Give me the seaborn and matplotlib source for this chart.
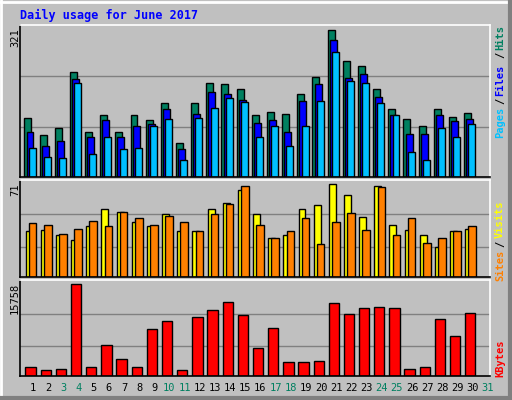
import numpy as np
import pandas as pd
import matplotlib
matplotlib.use("Agg")
import matplotlib.pyplot as plt
import seaborn as sns

days = list(range(1, 31))
hits = [129, 92, 107, 229, 97, 134, 99, 134, 125, 162, 73, 160, 205, 203, 192, 136, 142, 138, 181, 218,
        321, 253, 242, 192, 147, 127, 110, 147, 131, 140]
files = [97, 68, 79, 214, 86, 123, 86, 112, 116, 147, 60, 138, 186, 181, 168, 118, 125, 99, 166, 203,
         299, 216, 225, 175, 134, 94, 94, 134, 121, 127]
pages = [64, 44, 42, 205, 51, 86, 62, 64, 110, 127, 38, 129, 151, 171, 164, 86, 112, 68, 110, 166,
         271, 208, 205, 160, 134, 55, 38, 107, 86, 116]
visits = [35.5, 36, 32, 28.5, 39, 52, 49.5, 42, 39, 48.5, 35, 35.5, 52, 57, 67, 48.5, 30, 32, 52, 55.5,
          71, 63, 46, 70, 40, 36, 32, 23, 35, 37]
sites = [41.6, 40, 33, 37, 43, 39, 50, 45.5, 40, 47, 42, 35, 48.5, 56, 70, 40, 30, 35.5, 45, 25.5,
         42, 49, 36, 69, 32, 45, 26, 30, 35.5, 39]
kbytes = [1610, 1093, 1265, 15758, 1610, 5405, 2990, 1610, 7993, 9373, 1093, 10063, 11270, 12650, 10408,
          4888, 8165, 2473, 2473, 2645, 12478, 10580, 11615, 11788, 11615, 1265, 1610, 9718, 6958, 10753]
day_labels = [str(d) for d in range(1, 32)]
weekend = {3, 4, 10, 11, 17, 18, 24, 25, 31}

W, H = 512, 400
fig = plt.figure(figsize=(W / 100, H / 100), dpi=100)
fig.patch.set_facecolor("#C0C0C0")
MONO = "DejaVu Sans Mono"

def px_axes(x0, y0, x1, y1):
    return fig.add_axes([x0 / W, 1 - y1 / H, (x1 - x0) / W, (y1 - y0) / H])

def style(ax, top):
    ax.set_facecolor("#C0C0C0")
    ax.set_xlim(0.2, 31.2)
    ax.set_ylim(0, top)
    ax.set_xticks([]); ax.set_yticks([])
    ax.set_xlabel(""); ax.set_ylabel("")
    for s in ("left", "bottom"):
        ax.spines[s].set_color("black")
    for s in ("top", "right"):
        ax.spines[s].set_color("white")
    for sp in ax.spines.values():
        sp.set_linewidth(1.2)

def bars(ax, vals, off, width, color):
    df = pd.DataFrame({"x": np.array(days) + off, "y": vals})
    sns.barplot(data=df, x="x", y="y", native_scale=True, width=width, color=color,
                edgecolor="black", linewidth=1, saturation=1, errorbar=None, ax=ax)

# top panel
ax1 = px_axes(20, 25, 490, 177)
top1 = max(hits) * 152 / 147.5
for f in (108, 219):
    ax1.axhline(f, color="#808080", lw=1, zorder=0)
bars(ax1, hits, -0.28, 0.46, "#008060")
bars(ax1, files, -0.14, 0.46, "#0000FF")
bars(ax1, pages, 0.0, 0.46, "#00C0FF")
style(ax1, top1)

# middle panel
ax2 = px_axes(20, 180, 490, 277)
top2 = max(visits) * 97 / 92.7
for f in (23.2, 48.6):
    ax2.axhline(f, color="#808080", lw=1, zorder=0)
bars(ax2, visits, -0.2, 0.46, "#FFFF00")
bars(ax2, sites, 0.03, 0.5, "#FF8000")
style(ax2, top2)

# bottom panel
ax3 = px_axes(20, 280, 490, 376)
top3 = max(kbytes) * 96 / 91.7
for f in (5070, 10700):
    ax3.axhline(f, color="#808080", lw=1, zorder=0)
bars(ax3, kbytes, -0.1, 0.68, "#FF0000")
style(ax3, top3)

def ftext(x, y, s, **kw):
    fig.text(x / W, 1 - y / H, s, family=MONO, **kw)

ftext(20, 15, "Daily usage for June 2017", color="#0000FF", fontsize=8.5, weight="bold", va="center")
ftext(15, 28, str(max(hits)), rotation=90, fontsize=7.5, va="top", ha="center")
ftext(15, 183, str(int(max(visits))), rotation=90, fontsize=7.5, va="top", ha="center")
ftext(15, 283, str(max(kbytes)), rotation=90, fontsize=7.5, va="top", ha="center")

kw = dict(rotation=90, fontsize=7.5, weight="bold", ha="center", va="center")
ftext(500, 38, "Hits", color="#008060", **kw)
ftext(500, 55, "/", color="#000000", **kw)
ftext(500, 80, "Files", color="#0000FF", **kw)
ftext(500, 101, "/", color="#000000", **kw)
ftext(500, 122, "Pages", color="#00C0FF", **kw)
ftext(500, 219, "Visits", color="#FFFF00", **kw)
ftext(500, 244, "/", color="#000000", **kw)
ftext(500, 265, "Sites", color="#FF8000", **kw)
ftext(500, 358, "KBytes", color="#FF0000", **kw)

for i, lab in enumerate(day_labels):
    x = 33 + (i) * (470 / 31.0)
    ftext(x, 388, lab, color="#008060" if (i + 1) in weekend else "black",
          fontsize=7.5, ha="center", va="center")

# bevel border
fig.add_artist(plt.Line2D([0, 1], [0.995, 0.995], color="white", lw=2, transform=fig.transFigure))
fig.add_artist(plt.Line2D([0.002, 0.002], [0, 1], color="white", lw=2, transform=fig.transFigure))
fig.add_artist(plt.Line2D([0, 1], [0.004, 0.004], color="#808080", lw=3, transform=fig.transFigure))
fig.add_artist(plt.Line2D([0.996, 0.996], [0, 1], color="#808080", lw=3, transform=fig.transFigure))

fig.savefig("out.png", dpi=100, facecolor=fig.get_facecolor())
